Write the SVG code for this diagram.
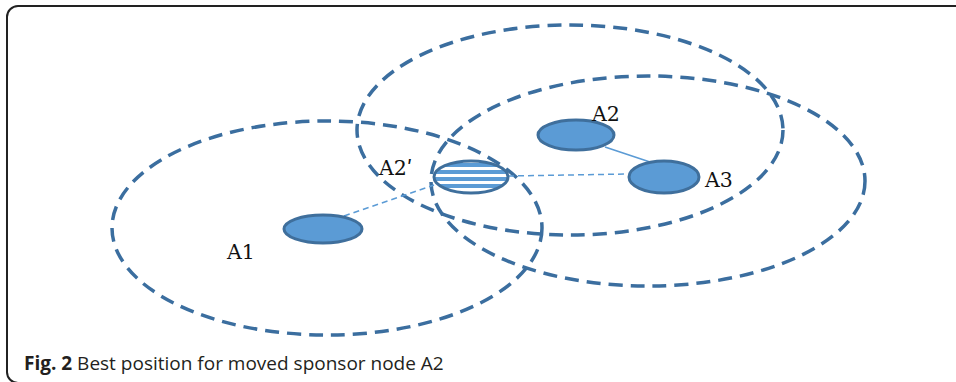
<svg xmlns="http://www.w3.org/2000/svg" width="956" height="382" viewBox="0 0 956 382">
<style>
.range{fill:none;stroke:#3b6e9f;stroke-width:3.5;stroke-dasharray:14 8}
.node{fill:#5b9bd5;stroke:#3f6f9c;stroke-width:3}
.lbl{font-family:"DejaVu Serif","Liberation Serif",serif;font-size:20.5px;fill:#111}
.link{stroke:#5b9bd5;stroke-width:1.5;fill:none}
.dash{stroke-dasharray:6 4}
.cap{font-family:"Open Sans","Noto Sans",sans-serif;font-size:19px;fill:#231f20}
</style>
<defs>
<clipPath id="c2"><ellipse cx="471" cy="177" rx="37" ry="16"/></clipPath>
</defs>
<rect x="7" y="6" width="1000" height="377" rx="11" fill="#fff" stroke="#222" stroke-width="2"/>
<g id="ranges">
<ellipse class="range" cx="327" cy="228" rx="215" ry="107"/>
<ellipse class="range" cx="570" cy="130" rx="213" ry="105"/>
<ellipse class="range" cx="648" cy="181" rx="217" ry="105"/>
</g>
<g id="connectors">
<line class="link dash" x1="344" y1="216" x2="434" y2="185"/>
<line class="link dash" x1="508" y1="176" x2="628" y2="174"/>
<line class="link" x1="605" y1="147" x2="650" y2="162"/>
</g>
<g id="A1"><ellipse class="node" cx="323" cy="229" rx="39" ry="14"/><text class="lbl" x="227" y="259">A1</text></g>
<g id="A2p">
<ellipse cx="471" cy="177" rx="37" ry="16" fill="#fff"/>
<g clip-path="url(#c2)" fill="#5b9bd5">
<rect x="430" y="163" width="85" height="4"/>
<rect x="430" y="170" width="85" height="4"/>
<rect x="430" y="177" width="85" height="4"/>
<rect x="430" y="184" width="85" height="4"/>
</g>
<ellipse cx="471" cy="177" rx="37" ry="16" fill="none" stroke="#3f6f9c" stroke-width="3"/>
<text class="lbl" x="379" y="175">A2ʹ</text>
</g>
<g id="A2"><ellipse class="node" cx="576" cy="135" rx="38" ry="15"/><text class="lbl" x="592" y="121">A2</text></g>
<g id="A3"><ellipse class="node" cx="664" cy="177" rx="35" ry="16"/><text class="lbl" x="705" y="187">A3</text></g>
<text class="cap" x="24" y="370"><tspan font-weight="bold">Fig. 2</tspan> Best position for moved sponsor node A2</text>
</svg>
